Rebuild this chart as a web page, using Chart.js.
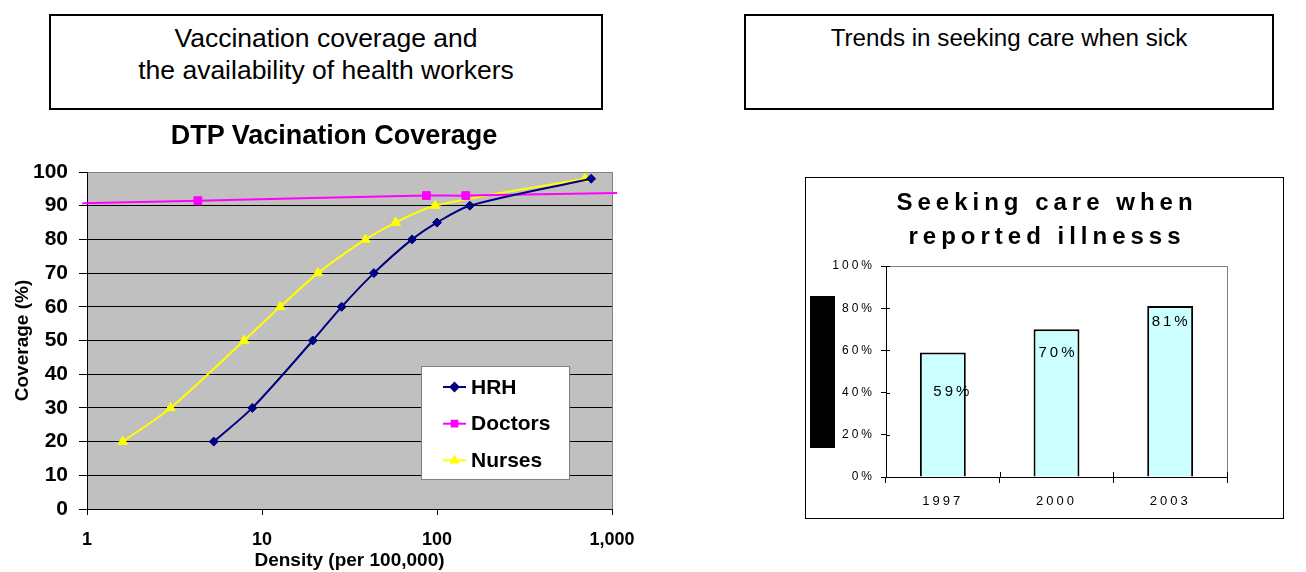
<!DOCTYPE html>
<html>
<head>
<meta charset="utf-8">
<script src="https://cdn.jsdelivr.net/npm/chart.js@4.4.0/dist/chart.umd.min.js"></script>
<style>
  body { margin: 0; width: 1306px; height: 572px; background: #fff; position: relative; overflow: hidden;
         font-family: 'Liberation Sans', Arial, sans-serif; color: #000; }
  .hdr { position: absolute; top: 14px; height: 96px; box-sizing: border-box; border: 2px solid #000;
         padding-top: 6px; text-align: center; line-height: 32px; }
  #dtpTitle { position: absolute; left: 134px; top: 119px; width: 400px; text-align: center;
              font-weight: bold; font-size: 27px; line-height: 32px; z-index: 2; }
  #careBox { position: absolute; left: 805px; top: 177px; width: 479px; height: 342px; box-sizing: border-box; border: 1px solid #000; }
  #careTitle { position: absolute; left: 806px; top: 185px; width: 477px; box-sizing: border-box; padding-left: 5px;
               text-align: center; font-weight: bold; font-size: 24px; letter-spacing: 5px; line-height: 34px; z-index: 2; }
  #blackBar { position: absolute; left: 810px; top: 296px; width: 25px; height: 152px; background: #000; z-index: 2; }
  canvas { position: absolute; }
</style>
</head>
<body>
<div class="hdr" style="left:49px;width:554px;font-size:26.5px;">Vaccination coverage and<br>the availability of health workers</div>
<div class="hdr" style="left:744px;width:530px;font-size:24.2px;">Trends in seeking care when sick</div>

<div id="dtpTitle">DTP Vacination Coverage</div>
<canvas id="dtp" width="668" height="457" style="left:0;top:115px;"></canvas>

<div id="careBox"></div>
<canvas id="care" width="477" height="340" style="left:806px;top:178px;"></canvas>
<div id="careTitle">Seeking care when<br>reported illnesss</div>
<div id="blackBar"></div>

<script>
const FONT = "'Liberation Sans', Arial, sans-serif";

// DTP coverage vs density (per 100,000)
const densityTicks = [1, 10, 100, 1000];
const hrhDensity = [5.3, 8.8, 19.5, 28.5, 43.6, 72, 100, 154, 760];
const hrhCoverage = [20, 30, 50, 60, 70, 80, 85, 90, 98];
const doctorDensity = [0.94, 4.3, 87, 146, 1070];
const doctorCoverage = [90.7, 91.5, 93, 93, 93.8];
const nurseDensity = [1.6, 3.0, 7.9, 12.7, 20.9, 39, 58, 97.5, 700];
const nurseCoverage = [20, 30, 50, 60, 70, 80, 85, 90, 98];

// seeking care when sick
const careYears = ['1997', '2000', '2003'];
const careShare = [59, 70, 81];
const labelShift = [[10, 39], [1.5, 24], [1, 16]]; // label nudges, as moved in the original

const pts = (xs, ys) => xs.map((x, i) => ({ x: x, y: ys[i] }));

const plotBg = {
  id: 'plotBg',
  beforeDraw(chart) {
    const { ctx, chartArea: a } = chart;
    ctx.save();
    ctx.fillStyle = '#c0c0c0';
    ctx.fillRect(a.left, a.top, a.width, a.height);
    ctx.strokeStyle = '#808080';
    ctx.lineWidth = 1;
    ctx.beginPath();
    ctx.moveTo(a.right + 0.5, a.top);
    ctx.lineTo(a.right + 0.5, a.bottom);
    ctx.stroke();
    ctx.restore();
  }
};

const legendBox = {
  id: 'legendBox',
  afterDraw(chart) {
    const { ctx, chartArea: a } = chart;
    const x = a.left + 334, y = a.top + 194, w = 148, h = 113;
    ctx.save();
    ctx.fillStyle = '#fff';
    ctx.fillRect(x, y, w, h);
    ctx.strokeStyle = '#808080';
    ctx.lineWidth = 1;
    ctx.strokeRect(x + 0.5, y + 0.5, w, h);
    chart.data.datasets.forEach((ds, i) => {
      const cy = y + 21 + i * 36.7;
      ctx.strokeStyle = ds.borderColor;
      ctx.fillStyle = ds.borderColor;
      ctx.lineWidth = 2;
      ctx.beginPath();
      ctx.moveTo(x + 22, cy);
      ctx.lineTo(x + 45, cy);
      ctx.stroke();
      Chart.helpers.drawPoint(ctx, { pointStyle: ds.pointStyle, radius: 4, borderWidth: 1, rotation: 0 }, x + 33.5, cy);
      ctx.fillStyle = '#000';
      ctx.font = 'bold 21px ' + FONT;
      ctx.textBaseline = 'middle';
      ctx.textAlign = 'left';
      ctx.fillText(ds.label, x + 50, cy + 1);
    });
    ctx.restore();
  }
};

new Chart(document.getElementById('dtp'), {
  type: 'line',
  data: {
    datasets: [
      { label: 'HRH', data: pts(hrhDensity, hrhCoverage), borderColor: '#000080', backgroundColor: '#000080',
        pointStyle: 'rectRot', pointRadius: 4.5, pointBorderWidth: 1, borderWidth: 2, tension: 0.3 },
      { label: 'Doctors', data: pts(doctorDensity, doctorCoverage), borderColor: '#ff00ff', backgroundColor: '#ff00ff',
        pointStyle: 'rect', pointRadius: doctorDensity.map(d => (d < 1 || d > 1000) ? 0 : 5.5),
        pointBorderWidth: 1, borderWidth: 2, tension: 0.3, clip: false },
      { label: 'Nurses', data: pts(nurseDensity, nurseCoverage), borderColor: '#ffff00', backgroundColor: '#ffff00',
        pointStyle: 'triangle', pointRadius: 5.5, pointBorderWidth: 1, borderWidth: 2, tension: 0.3 }
    ]
  },
  options: {
    responsive: false,
    animation: false,
    events: [],
    layout: { padding: { top: 57, right: 56 } },
    plugins: {
      legend: { display: false },
      tooltip: { enabled: false },
      title: { display: false }
    },
    scales: {
      x: {
        type: 'logarithmic', min: 1, max: 1000,
        afterBuildTicks: s => { s.ticks = densityTicks.map(v => ({ value: v })); },
        afterFit: s => { s.height = 63; },
        grid: { drawOnChartArea: false, tickLength: 6, tickColor: '#000' },
        border: { color: '#000', width: 1 },
        ticks: {
          color: '#000', padding: 14, autoSkip: false, maxRotation: 0,
          font: { family: FONT, size: 18, weight: 'bold' },
          callback: v => Number(v).toLocaleString('en-US')
        },
        title: {
          display: true, text: 'Density (per 100,000)', color: '#000',
          font: { family: FONT, size: 19, weight: 'bold' }, padding: { top: 0, bottom: 0 }
        }
      },
      y: {
        min: 0, max: 100,
        afterFit: s => { s.width = 87; },
        grid: { color: c => (c.tick && c.tick.value === 100) ? '#808080' : '#000', tickLength: 8, tickColor: '#000' },
        border: { color: '#000', width: 1 },
        ticks: { stepSize: 10, color: '#000', padding: 11, font: { family: FONT, size: 21, weight: 'bold' } },
        title: {
          display: true, text: 'Coverage (%)', color: '#000',
          font: { family: FONT, size: 19, weight: 'bold' }, padding: { top: 11.6, bottom: 0 }
        }
      }
    }
  },
  plugins: [plotBg, legendBox]
});

const spacing = {
  id: 'spacing',
  beforeLayout(chart) { chart.ctx.letterSpacing = '3px'; },
  beforeDraw(chart) { chart.ctx.letterSpacing = '3px'; }
};

const frame = {
  id: 'frame',
  afterDraw(chart) {
    const { ctx, chartArea: a, scales } = chart;
    ctx.save();
    ctx.strokeStyle = '#808080';
    ctx.lineWidth = 1;
    ctx.beginPath();
    ctx.moveTo(a.left, a.top + 0.5);
    ctx.lineTo(a.right + 0.5, a.top + 0.5);
    ctx.lineTo(a.right + 0.5, a.bottom);
    ctx.stroke();
    // ticks that cross into the plot
    ctx.strokeStyle = '#000';
    ctx.beginPath();
    scales.y.ticks.forEach(t => {
      const py = Math.round(scales.y.getPixelForValue(t.value)) + 0.5;
      ctx.moveTo(a.left, py);
      ctx.lineTo(a.left + 4, py);
    });
    const n = chart.data.labels.length;
    for (let i = 0; i <= n; i++) {
      const px = Math.round(a.left + i * a.width / n) + 0.5;
      ctx.moveTo(px, a.bottom - 5);
      ctx.lineTo(px, a.bottom);
    }
    ctx.stroke();
    ctx.restore();
  }
};

const valueLabels = {
  id: 'valueLabels',
  afterDatasetsDraw(chart) {
    const { ctx } = chart;
    const meta = chart.getDatasetMeta(0);
    const vals = chart.data.datasets[0].data;
    ctx.save();
    ctx.font = '15px ' + FONT;
    ctx.fillStyle = '#000';
    ctx.textAlign = 'center';
    ctx.textBaseline = 'middle';
    meta.data.forEach((bar, i) => {
      ctx.fillText(vals[i] + '%', bar.x + labelShift[i][0], bar.y + labelShift[i][1]);
    });
    ctx.restore();
  }
};

new Chart(document.getElementById('care'), {
  type: 'bar',
  data: {
    labels: careYears,
    datasets: [{
      data: careShare, backgroundColor: '#ccffff', borderColor: '#000', borderWidth: 2,
      barPercentage: 0.404, categoryPercentage: 1
    }]
  },
  options: {
    responsive: false,
    animation: false,
    events: [],
    layout: { padding: { top: 88, right: 56 } },
    plugins: { legend: { display: false }, tooltip: { enabled: false } },
    scales: {
      x: {
        afterFit: s => { s.height = 41; },
        grid: { drawOnChartArea: false, tickLength: 6, tickColor: '#000', offset: true },
        border: { color: '#000', width: 1 },
        ticks: { color: '#000', padding: 11, font: { family: FONT, size: 13 } }
      },
      y: {
        min: 0, max: 100,
        afterFit: s => { s.width = 80; },
        grid: { drawOnChartArea: false, tickLength: 5, tickColor: '#000' },
        border: { color: '#000', width: 1 },
        ticks: { stepSize: 20, color: '#000', padding: 6, font: { family: FONT, size: 12 }, callback: v => v + '%' }
      }
    }
  },
  plugins: [spacing, frame, valueLabels]
});
</script>
</body>
</html>
